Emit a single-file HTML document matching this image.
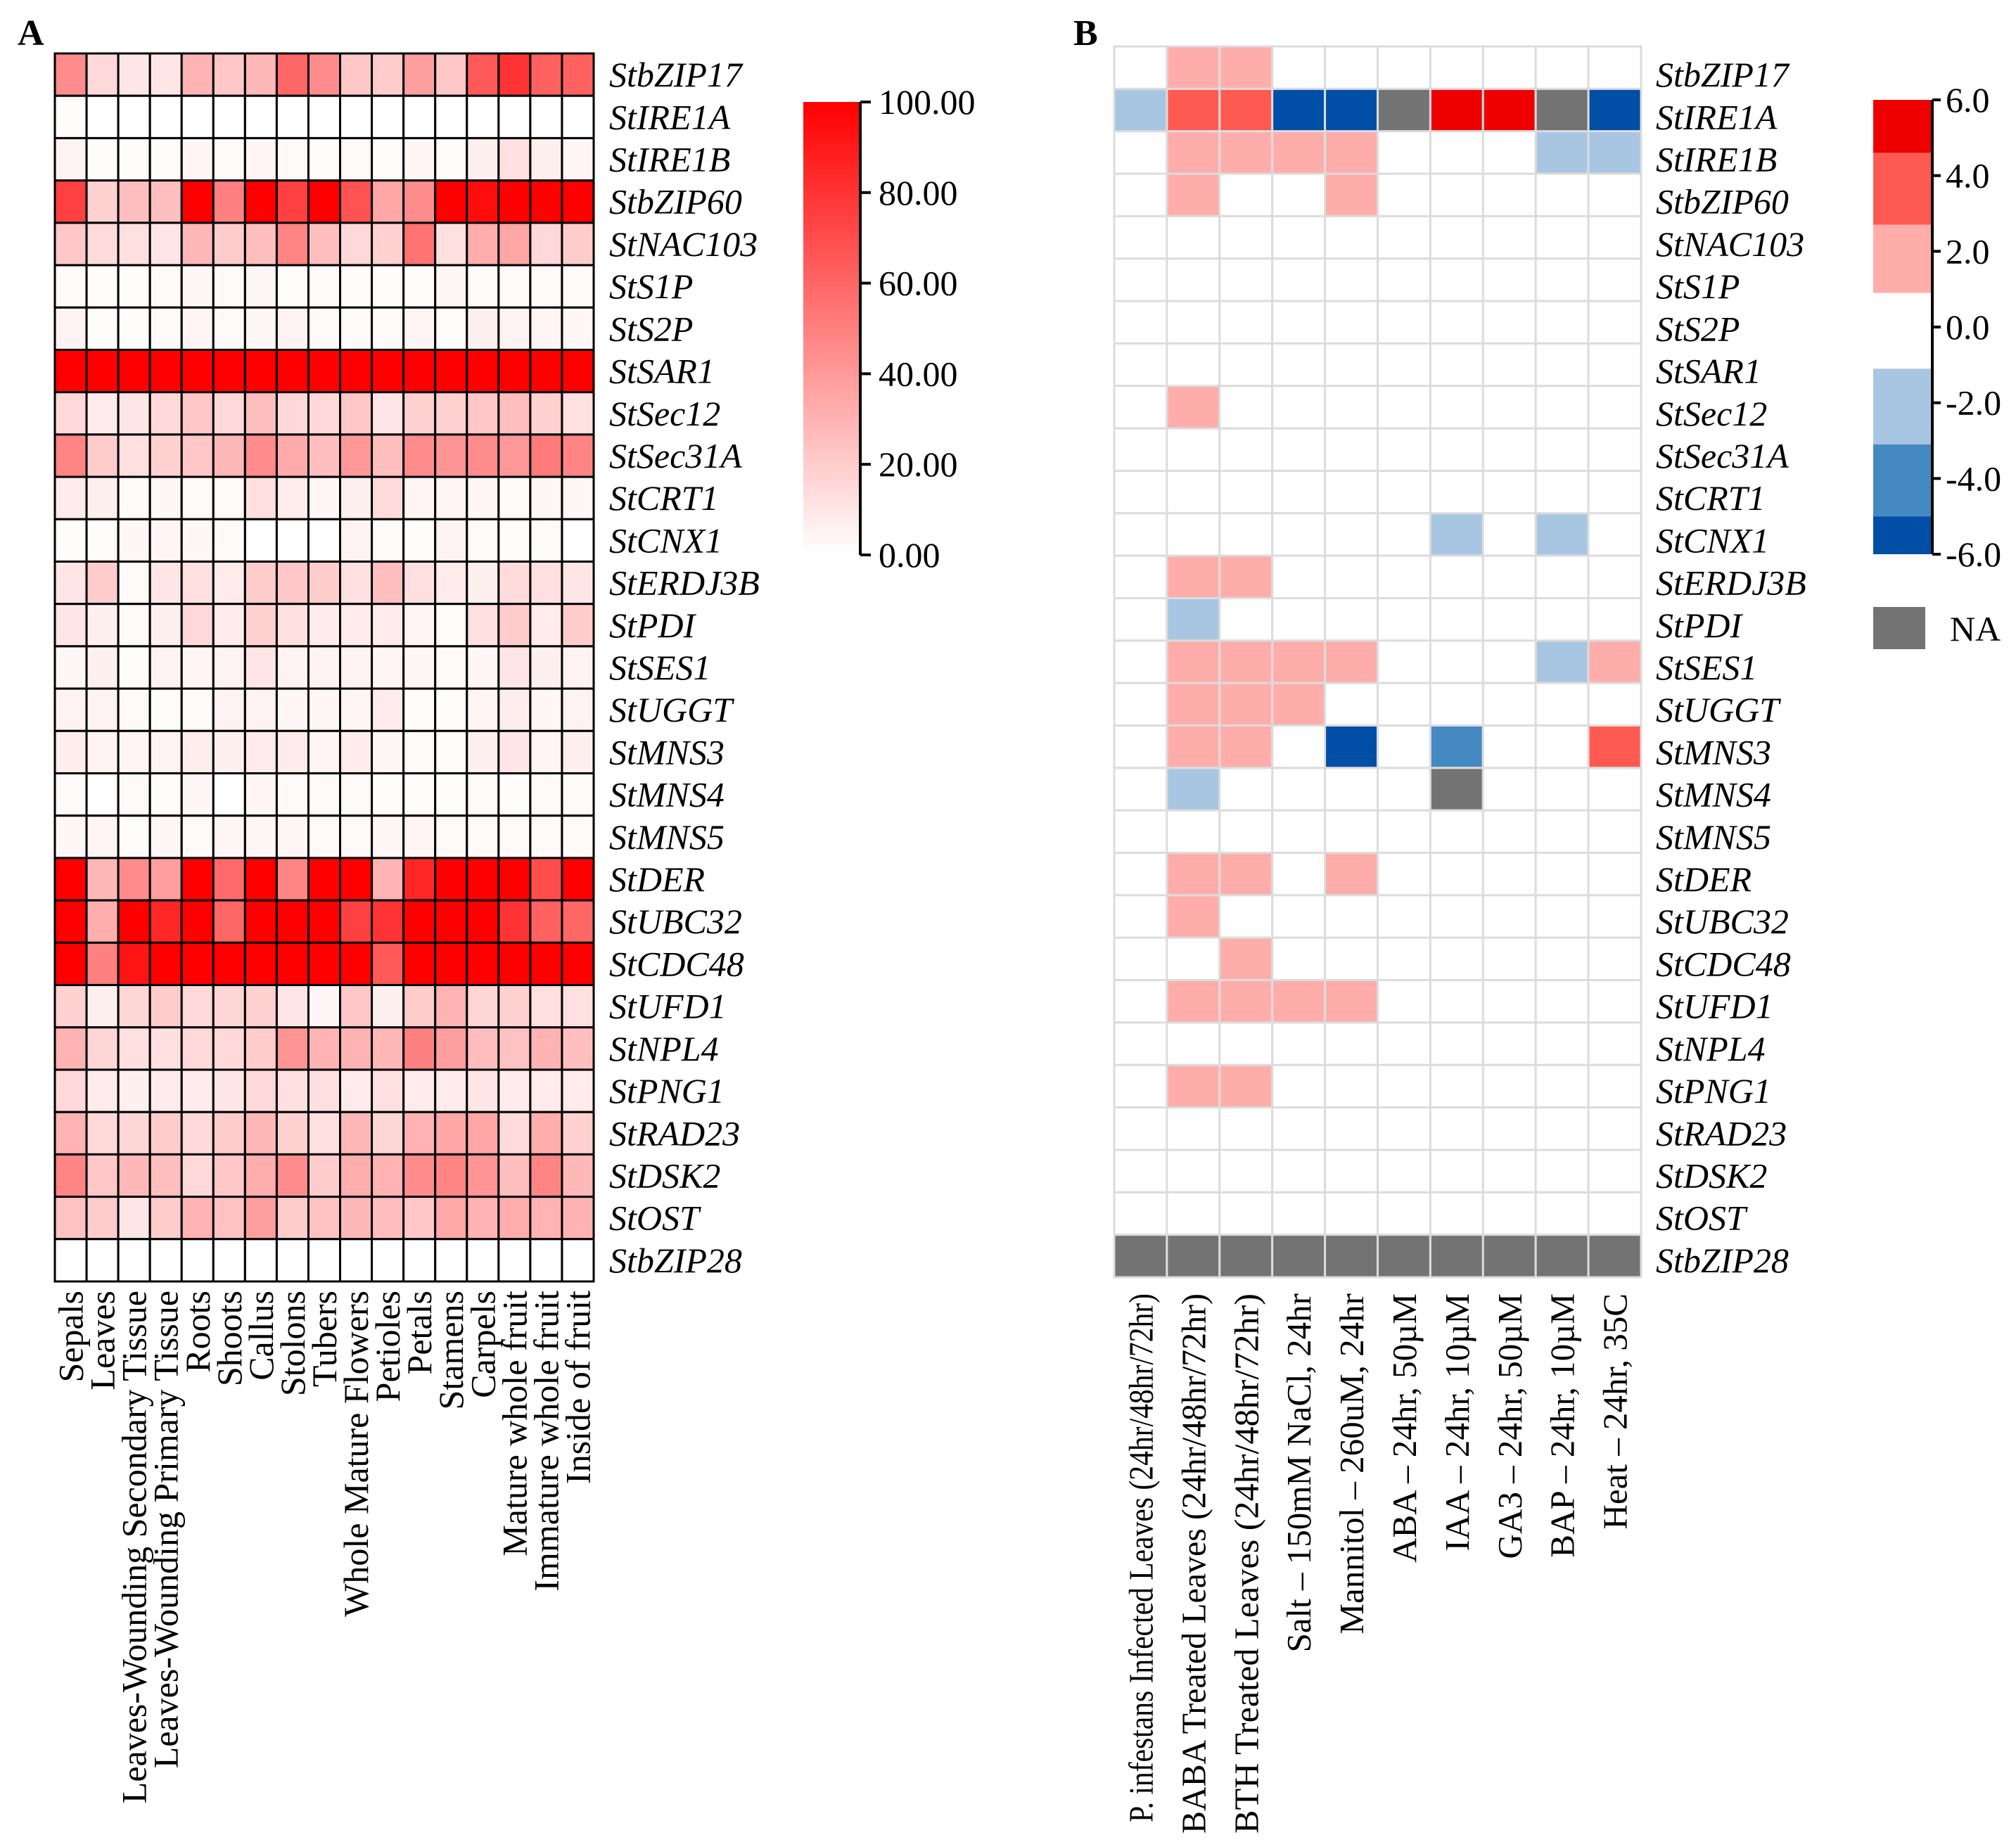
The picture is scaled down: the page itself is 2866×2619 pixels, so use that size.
<!DOCTYPE html>
<html><head><meta charset="utf-8"><style>
html,body{margin:0;padding:0;background:#fff;}
svg{display:block;}
text{font-family:"Liberation Serif",serif;fill:#000;}
</style></head><body>
<svg id="chart" width="2866" height="2619" viewBox="0 0 2866 2619" xmlns="http://www.w3.org/2000/svg">
<defs><linearGradient id="gradA" x1="0" y1="1" x2="0" y2="0"><stop offset="0" stop-color="#ffffff"/><stop offset="1" stop-color="#ff0000"/></linearGradient></defs>
<text x="25" y="64" font-size="52" font-weight="bold">A</text>
<text x="1526" y="64" font-size="52" font-weight="bold">B</text>
<g id="heatA"></g>
<g id="heatB"></g>
<g id="legA"></g>
<g id="legB"></g>
</svg>
<script>
const genes = ["StbZIP17","StIRE1A","StIRE1B","StbZIP60","StNAC103","StS1P","StS2P","StSAR1","StSec12","StSec31A","StCRT1","StCNX1","StERDJ3B","StPDI","StSES1","StUGGT","StMNS3","StMNS4","StMNS5","StDER","StUBC32","StCDC48","StUFD1","StNPL4","StPNG1","StRAD23","StDSK2","StOST","StbZIP28"];
const tissues = ["Sepals","Leaves","Leaves-Wounding Secondary Tissue","Leaves-Wounding Primary Tissue","Roots","Shoots","Callus","Stolons","Tubers","Whole Mature Flowers","Petioles","Petals","Stamens","Carpels","Mature whole fruit","Immature whole fruit","Inside of fruit"];
const treatments = ["P. infestans Infected Leaves (24hr/48hr/72hr)","BABA Treated Leaves (24hr/48hr/72hr)","BTH Treated Leaves (24hr/48hr/72hr)","Salt – 150mM NaCl, 24hr","Mannitol – 260uM, 24hr","ABA – 24hr, 50µM","IAA – 24hr, 10µM","GA3 – 24hr, 50µM","BAP – 24hr, 10µM","Heat – 24hr, 35C"];
const tissueValues = [
[45,15,10,10,30,22,28,60,45,22,20,38,22,65,80,62,62],
[1,0,0,0,0,0,0,0,0,0,0,0,0,0,0,0,0],
[5,1,1,1,4,2,4,2,1,2,1,4,1,6,12,6,4],
[75,18,25,25,100,50,100,75,100,68,35,45,100,95,100,100,100],
[22,14,12,10,28,20,25,48,25,15,18,55,12,32,35,15,20],
[2,1,1,2,3,2,3,1,2,1,1,1,3,2,2,2,2],
[5,1,1,2,4,2,3,5,2,2,2,4,1,6,5,4,3],
[100,100,100,100,100,100,100,100,100,100,100,100,100,100,100,100,100],
[15,8,10,15,22,15,25,15,15,22,10,18,18,22,25,18,12],
[48,20,12,18,22,28,45,33,25,40,25,45,42,45,40,52,48],
[8,6,2,3,2,2,12,7,3,6,14,4,4,3,2,3,3],
[1,1,3,4,3,2,0,0,0,5,2,1,5,2,1,2,0],
[10,20,2,10,12,8,20,22,20,12,25,12,8,6,14,12,10],
[10,6,2,6,15,8,18,12,8,8,8,4,1,12,20,8,20],
[3,6,1,5,4,5,10,5,5,5,4,3,2,3,10,6,5],
[5,5,2,1,2,5,5,3,3,4,8,1,1,4,7,3,5],
[7,5,4,5,7,6,8,8,4,8,3,2,1,6,10,4,6],
[2,0,2,1,3,0,4,2,2,2,1,1,1,2,1,2,2],
[3,4,1,3,2,3,3,3,2,2,3,4,2,2,2,2,2],
[100,28,45,38,100,58,100,48,100,100,30,85,100,100,100,70,100],
[100,32,100,85,100,60,100,100,100,75,80,100,100,100,80,62,60],
[100,50,92,100,100,100,100,100,100,100,65,100,100,100,100,100,100],
[18,6,16,20,15,16,18,10,3,22,6,20,30,16,18,12,12],
[30,16,12,12,15,15,20,42,30,30,28,50,38,26,24,30,25],
[15,8,6,8,8,10,15,12,12,8,12,8,8,10,8,8,8],
[30,15,16,20,15,20,28,18,12,28,16,30,35,35,14,32,18],
[48,22,28,25,15,22,32,45,20,32,30,45,48,42,25,48,28],
[24,20,10,20,30,24,38,20,24,28,26,22,34,30,32,30,30],
[0,0,0,0,0,0,0,0,0,0,0,0,0,0,0,0,0]];
const N = null;
const treatValues = [
[0,2.5,2.5,0,0,0,0,0,0,0],
[-2.5,4.5,4.5,-6,-6,N,6,6,N,-6],
[0,2.5,2.5,2.5,2.5,0,0,0,-2.5,-2.5],
[0,2.5,0,0,2.5,0,0,0,0,0],
[0,0,0,0,0,0,0,0,0,0],
[0,0,0,0,0,0,0,0,0,0],
[0,0,0,0,0,0,0,0,0,0],
[0,0,0,0,0,0,0,0,0,0],
[0,2.5,0,0,0,0,0,0,0,0],
[0,0,0,0,0,0,0,0,0,0],
[0,0,0,0,0,0,0,0,0,0],
[0,0,0,0,0,0,-2.5,0,-2.5,0],
[0,2.5,2.5,0,0,0,0,0,0,0],
[0,-2.5,0,0,0,0,0,0,0,0],
[0,2.5,2.5,2.5,2.5,0,0,0,-2.5,2.5],
[0,2.5,2.5,2.5,0,0,0,0,0,0],
[0,2.5,2.5,0,-6,0,-4.5,0,0,4.5],
[0,-2.5,0,0,0,0,N,0,0,0],
[0,0,0,0,0,0,0,0,0,0],
[0,2.5,2.5,0,2.5,0,0,0,0,0],
[0,2.5,0,0,0,0,0,0,0,0],
[0,0,2.5,0,0,0,0,0,0,0],
[0,2.5,2.5,2.5,2.5,0,0,0,0,0],
[0,0,0,0,0,0,0,0,0,0],
[0,2.5,2.5,0,0,0,0,0,0,0],
[0,0,0,0,0,0,0,0,0,0],
[0,0,0,0,0,0,0,0,0,0],
[0,0,0,0,0,0,0,0,0,0],
[N,N,N,N,N,N,N,N,N,N]];
const ticksA = ["100.00","80.00","60.00","40.00","20.00","0.00"];
const tickValsA = [100,80,60,40,20,0];
const ticksB = ["6.0","4.0","2.0","0.0","-2.0","-4.0","-6.0"];
const tickValsB = [6,4,2,0,-2,-4,-6];

const NS = "http://www.w3.org/2000/svg";
function mk(tag, attrs, parent){const e=document.createElementNS(NS,tag);for(const k in attrs)e.setAttribute(k,attrs[k]);parent.appendChild(e);return e;}

// Panel A
const A = {x0:78,x1:844,y0:76,y1:1822};
const gA = document.getElementById('heatA');
const cwA = (A.x1-A.x0)/tissues.length, rhA=(A.y1-A.y0)/genes.length;
const xA = i => A.x0 + i*cwA, yA = j => A.y0 + j*rhA;
function colA(v){const t=Math.max(0,Math.min(100,v))/100;const g=Math.round(255*(1-t));return `rgb(255,${g},${g})`;}
tissueValues.forEach((row,j)=>row.forEach((v,i)=>{
  const r=mk('rect',{x:xA(i),y:yA(j),width:cwA,height:rhA,fill:colA(v),stroke:'#000','stroke-width':3},gA);
  
  
}));
genes.forEach((g,j)=>{
  const t=mk('text',{x:866,y:yA(j)+rhA/2+17,'font-size':50,'font-style':'italic'},gA);t.textContent=g;
  
  
});
tissues.forEach((s,i)=>{
  const cx=xA(i)+cwA/2+17;
  const t=mk('text',{x:cx,y:1835,'font-size':50,'text-anchor':'end',transform:`rotate(-90 ${cx} 1835)`},gA);t.textContent=s;
  
  
});

// Panel B
const B = {x0:1584,x1:2333,y0:66,y1:1816};
const gB = document.getElementById('heatB');
const cwB=(B.x1-B.x0)/treatments.length, rhB=(B.y1-B.y0)/genes.length;
const xB=i=>B.x0+i*cwB, yB=j=>B.y0+j*rhB;
function colB(v){
  if(v===null) return '#737373';
  if(v>=5) return '#ee0000'; if(v>=3) return '#ff5a52'; if(v>=1) return '#ffadab';
  if(v<=-5) return '#004ea5'; if(v<=-3) return '#4589c2'; if(v<=-1) return '#a8c6e2';
  return '#ffffff';
}
treatValues.forEach((row,j)=>row.forEach((v,i)=>{
  const r=mk('rect',{x:xB(i),y:yB(j),width:cwB,height:rhB,fill:colB(v),stroke:'#dcdcdc','stroke-width':3},gB);
  
  
}));
genes.forEach((g,j)=>{
  const t=mk('text',{x:2354,y:yA(j)+rhA/2+17,'font-size':50,'font-style':'italic'},gB);t.textContent=g;
  
  
});
treatments.forEach((s,i)=>{
  const cx=xB(i)+cwB/2+17;
  const attrs={x:cx,y:1839,'font-size':49,'text-anchor':'end',transform:`rotate(-90 ${cx} 1839)`};
  if(s.length>30){attrs.textLength = i===0 ? 752 : 768; attrs.lengthAdjust='spacingAndGlyphs';}
  const t=mk('text',attrs,gB);t.textContent=s;
  
  
});

// Colorbar A
const lA=document.getElementById('legA');
const cbA={x0:1142,x1:1223,top:145,bot:789};
const yCA=v=>cbA.bot-(v/100)*(cbA.bot-cbA.top);
let e=mk('rect',{x:cbA.x0,y:cbA.top,width:cbA.x1-cbA.x0,height:cbA.bot-cbA.top,fill:'url(#gradA)'},lA);


mk('line',{x1:cbA.x1,y1:cbA.top,x2:cbA.x1,y2:cbA.bot,stroke:'#000','stroke-width':4},lA);
tickValsA.forEach((v,k)=>{
  mk('line',{x1:cbA.x1,y1:yCA(v),x2:cbA.x1+15,y2:yCA(v),stroke:'#000','stroke-width':4},lA);
  const t=mk('text',{x:1249,y:yCA(v)+17,'font-size':50},lA);t.textContent=ticksA[k];
  
  
});

// Colorbar B
const lB=document.getElementById('legB');
const cbB={x0:2663,x1:2745,top:142,bot:788};
const yCB=v=>cbB.bot-((v+6)/12)*(cbB.bot-cbB.top);
const bands=[[6,4.6,'#ee0000'],[4.6,2.7,'#ff5a52'],[2.7,0.9,'#ffadab'],[0.9,-1.1,'#ffffff'],[-1.1,-3.1,'#a8c6e2'],[-3.1,-5,'#4589c2'],[-5,-6,'#004ea5']];
bands.forEach(b=>{
  const r=mk('rect',{x:cbB.x0,y:yCB(b[0]),width:cbB.x1-cbB.x0,height:yCB(b[1])-yCB(b[0]),fill:b[2]},lB);
  
  
});
mk('line',{x1:cbB.x1+2,y1:cbB.top,x2:cbB.x1+2,y2:cbB.bot,stroke:'#000','stroke-width':4},lB);
tickValsB.forEach((v,k)=>{
  mk('line',{x1:cbB.x1+2,y1:yCB(v),x2:cbB.x1+14,y2:yCB(v),stroke:'#000','stroke-width':4},lB);
  const t=mk('text',{x:2766,y:yCB(v)+17,'font-size':50},lB);t.textContent=ticksB[k];
  
  
});
e=mk('rect',{x:2663,y:863,width:74,height:60,fill:'#737373'},lB);


e=mk('text',{x:2772,y:911,'font-size':50},lB);e.textContent='NA';


</script>
</body></html>
